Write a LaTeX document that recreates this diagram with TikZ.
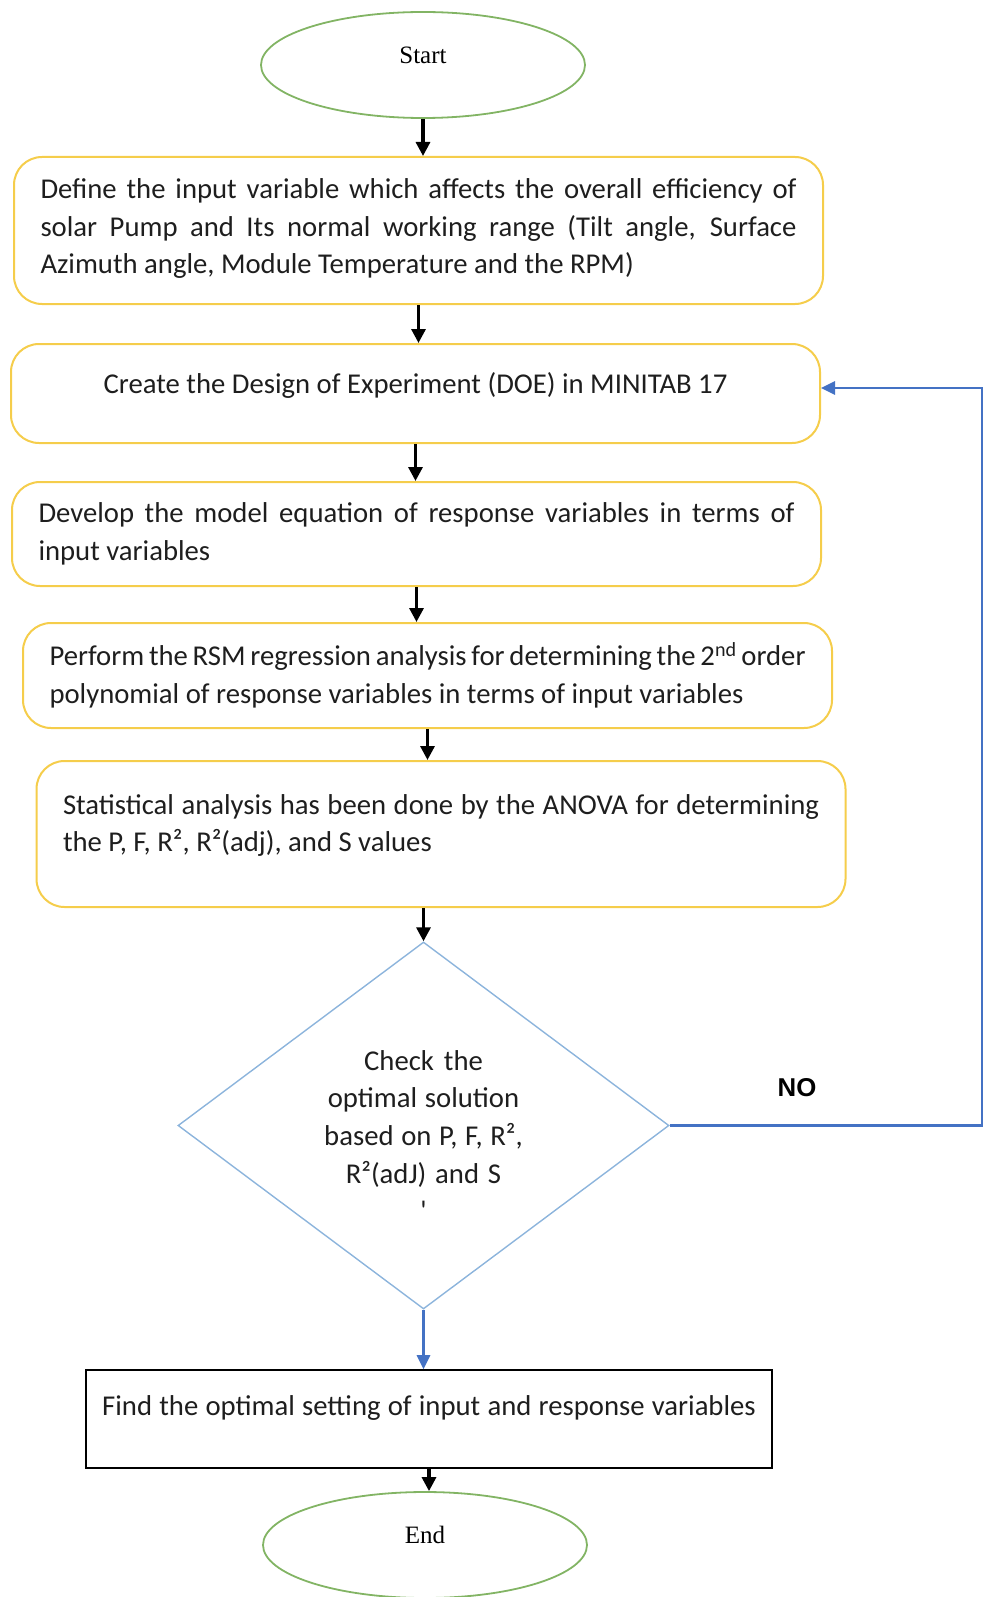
\documentclass[tikz,border=0pt]{standalone}
\usepackage{fontspec}
\setmainfont{Carlito}
\newfontfamily\timesfont{Liberation Serif}
\newfontfamily\arialfont{Liberation Sans}
\usetikzlibrary{arrows.meta,shapes.geometric}
\definecolor{boxgold}{RGB}{245,205,75}
\definecolor{ovalgreen}{RGB}{130,180,100}
\definecolor{diamblue}{RGB}{140,180,220}
\definecolor{linkblue}{RGB}{68,114,196}
\definecolor{inkgrey}{RGB}{30,30,30}
\tikzset{
  box/.style={draw=boxgold, line width=2pt, rounded corners=28pt, minimum width=809pt, text width=756pt, align=left,
              font=\fontsize{28.7}{37.7}\selectfont, text=inkgrey, inner sep=2pt,
              execute at begin node={\spaceskip=0pt\xspaceskip=0pt}},
  plainbox/.style={draw, line width=1.6pt, minimum width=686pt, minimum height=98pt, text width=680pt, align=center,
              font=\fontsize{28.7}{37.7}\selectfont, text=inkgrey, inner sep=2pt,
              execute at begin node={\spaceskip=0pt\xspaceskip=0pt}},
  oval/.style={draw=ovalgreen, ellipse, line width=1.8pt, minimum width=324pt, minimum height=106pt,
               font=\timesfont\fontsize{25}{30}\selectfont, text height=17pt, text depth=20pt},
  decide/.style={draw=diamblue, diamond, line width=1.4pt, minimum width=491pt, minimum height=367pt, aspect=1.338,
                 text width=240pt, align=center, font=\fontsize{28.7}{37.7}\selectfont, text=inkgrey, inner sep=2pt,
                 execute at begin node={\spaceskip=0pt\xspaceskip=0pt}},
  arr/.style={-{Triangle[length=14pt,width=14pt]}, line width=3.2pt},
  barr/.style={-{Triangle[length=14pt,width=13pt]}, line width=2.8pt, draw=linkblue, color=linkblue}
}
\begin{document}
\begin{tikzpicture}[x=1pt,y=-1pt]
\useasboundingbox (0,0) rectangle (984,1597);
\node[oval] (start) at (423,65) {Start};
\node[box, text height=20pt, text depth=84pt, minimum height=147pt] (define) at (418.5,230.5)
  {\makebox[756pt][s]{Define the input variable which affects the overall efficiency of}\\
   \makebox[756pt][s]{solar Pump and Its normal working range (Tilt angle, Surface}\\
   Azimuth angle, Module Temperature and the RPM)};
\node[box, text height=20pt, text depth=21pt, minimum height=99pt] (doe) at (415.5,393.5)
  {\makebox[756pt]{\spaceskip=0pt Create the Design of Experiment (DOE) in MINITAB 17}};
\node[box, minimum height=104pt] (model) at (416.5,534)
  {\makebox[756pt][s]{Develop the model equation of response variables in terms of}\\ input variables};
\node[box, minimum height=105pt] (rsm) at (427.5,675.5)
  {\makebox[756pt][s]{Perform the RSM regression analysis for determining the 2\textsuperscript{nd} order}\\
   polynomial of response variables in terms of input variables};
\node[box, text height=20pt, text depth=60pt, minimum height=146pt] (anova) at (441,834)
  {\makebox[756pt][s]{Statistical analysis has been done by the ANOVA for determining}\\
   the P, F, R², R²(adj), and S values};
\node[decide, text height=20pt, text depth=131pt] (check) at (423.5,1125.5)
  {Check the\\ optimal solution\\ based on P, F, R²,\\ R²(adJ) and S\\ \textquotesingle};
\node[plainbox, text height=20pt, text depth=28pt] (find) at (429,1419)
  {Find the optimal setting of input and response variables};
\node[oval] (end) at (425,1545) {End};
\node[font=\arialfont\bfseries\fontsize{25.8}{30}\selectfont] (no) at (797,1088) {NO};
\coordinate (fb) at (982,0);
% main flow
\draw[arr] (start) -- (start |- define.north);
\draw[arr] (define.south) -- (define.south |- doe.north);
\draw[arr] (doe.south) -- (doe.south |- model.north);
\draw[arr] (model.south) -- (model.south |- rsm.north);
\draw[arr] (rsm.south) -- (rsm.south |- anova.north);
\draw[arr] (check.north |- anova.south) -- (check.north);
\draw[barr] (check.south) -- (check.south |- find.north);
\draw[arr] (find.south) -- (find.south |- end.north);
% loop back
\draw[barr] (check.east) -- (check.east -| fb) |- ([yshift=5.5pt]doe.east);
\end{tikzpicture}
\end{document}
